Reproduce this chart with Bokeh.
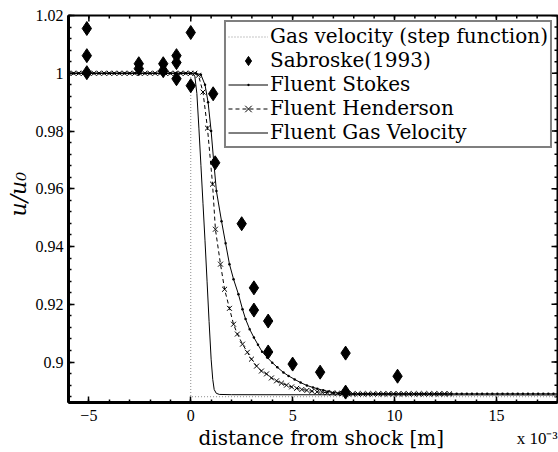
import math
from bokeh.plotting import figure
from bokeh.models import FixedTicker, Legend, LegendItem, Range1d, Title
from bokeh.embed import file_html
from bokeh.resources import INLINE

# ---- data (x in units of 1e-3 m) ----
x_step = [-6.0, 0.0, 0.0, 18.0]
u_step = [1.0, 1.0, 0.888, 0.888]

x_sab = [-5.1, -5.1, -5.1, -2.55, -2.55, -1.35, -1.35, -0.7, -0.7, -0.7, 0.0, 0.0,
         1.1, 1.2, 2.5, 2.5, 3.1, 3.1, 3.8, 3.8, 5.0, 6.35, 7.6, 7.6, 10.15]
u_sab = [1.0155, 1.0061, 1.0002, 1.0033, 1.0016, 1.0033, 1.0009, 1.0061, 1.0037, 0.9981, 1.0141, 0.9957,
         0.9929, 0.969, 0.9766, 0.9479, 0.9257, 0.918, 0.9142, 0.9035, 0.8993, 0.8965, 0.9031, 0.8896, 0.8951]

x_sto = [-6.0, -5.75, -5.5, -5.25, -5.0, -4.75, -4.5, -4.25, -4.0, -3.75, -3.5, -3.25, -3.0,
         -2.75, -2.5, -2.25, -2.0, -1.75, -1.5, -1.25, -1.0, -0.75, -0.5, -0.25, 0.0, 0.25, 0.5,
         0.7, 0.85, 1.0, 1.12, 1.26, 1.51, 1.71, 1.9, 2.1, 2.34, 2.54, 2.69, 2.89, 3.1, 3.3, 3.5,
         3.75, 4.0, 4.25, 4.55, 4.8, 5.1, 5.39, 5.7, 6.0, 6.21, 6.5, 6.75, 7.03, 7.3, 7.55, 7.8,
         8.05, 8.3, 8.55, 8.8, 9.05, 9.3, 9.55, 9.8, 10.05, 10.3, 10.55, 10.8, 11.05, 11.3, 11.55,
         11.8, 12.05, 12.3, 12.55, 12.8, 13.05, 13.3, 13.55, 13.8, 14.05, 14.3, 14.55, 14.8, 15.05,
         15.3, 15.55, 15.8, 16.05, 16.3, 16.55, 16.8, 17.05, 17.3, 17.55, 17.8, 18.05]
u_sto = [1.0, 1.0, 1.0, 1.0, 1.0, 1.0, 1.0, 1.0, 1.0, 1.0, 1.0, 1.0, 1.0,
         1.0, 1.0, 1.0, 1.0, 1.0, 1.0, 1.0, 1.0, 1.0, 1.0, 1.0, 1.0, 1.0, 0.9995,
         0.996, 0.99, 0.98, 0.97, 0.9592, 0.9488, 0.9411, 0.9339, 0.9287, 0.9235, 0.9183, 0.9149,
         0.9114, 0.9085, 0.906, 0.9036, 0.9016, 0.8998, 0.8982, 0.8964, 0.8952, 0.894, 0.8929,
         0.8919, 0.8912, 0.8908, 0.8902, 0.8898, 0.8894, 0.8892, 0.8891, 0.889,
         0.889, 0.889, 0.889, 0.889, 0.889, 0.889, 0.889, 0.889, 0.889, 0.889, 0.889, 0.889,
         0.889, 0.889, 0.889, 0.889, 0.889, 0.889, 0.889, 0.889, 0.889, 0.889, 0.889, 0.889,
         0.889, 0.889, 0.889, 0.889, 0.889, 0.889, 0.889, 0.889, 0.889, 0.889, 0.889, 0.889,
         0.889, 0.889, 0.889, 0.889, 0.889]

x_hen = [-6.0, -5.75, -5.5, -5.25, -5.0, -4.75, -4.5, -4.25, -4.0, -3.75, -3.5, -3.25, -3.0,
         -2.75, -2.5, -2.25, -2.0, -1.75, -1.5, -1.25, -1.0, -0.75, -0.5, -0.25, 0.0, 0.2,
         0.38, 0.6, 0.82, 1.07, 1.21, 1.46, 1.66, 1.9, 2.1, 2.29, 2.54, 2.78, 2.98, 3.23, 3.47,
         3.72, 3.96, 4.21, 4.45, 4.7, 4.95, 5.2, 5.45, 5.7, 5.95, 6.2, 6.45, 6.7, 6.95, 7.2,
         7.45, 7.7, 7.95, 8.2, 8.45, 8.7, 8.95, 9.2, 9.45, 9.7, 9.95, 10.2, 10.45, 10.7, 10.95,
         11.2, 11.45, 11.7, 11.95, 12.2, 12.45, 12.7]
u_hen = [1.0, 1.0, 1.0, 1.0, 1.0, 1.0, 1.0, 1.0, 1.0, 1.0, 1.0, 1.0, 1.0,
         1.0, 1.0, 1.0, 1.0, 1.0, 1.0, 1.0, 1.0, 1.0, 1.0, 1.0, 1.0, 1.0,
         0.9993, 0.9935, 0.981, 0.9616, 0.946, 0.9339, 0.9252, 0.9186, 0.9131, 0.9097, 0.9062,
         0.9034, 0.901, 0.8986, 0.8969, 0.8959, 0.8945, 0.8935, 0.8927, 0.892, 0.8914, 0.8909,
         0.8905, 0.8902, 0.8899, 0.8897, 0.8895, 0.8894, 0.8893, 0.8892, 0.8891, 0.8891, 0.889,
         0.889, 0.889, 0.889, 0.889, 0.889, 0.889, 0.889, 0.889, 0.889, 0.889, 0.889, 0.889,
         0.889, 0.889, 0.889, 0.889, 0.889, 0.889, 0.889]

x_gas = [-6.0, 0.1, 0.2, 0.3, 0.4, 0.5, 0.6, 0.7, 0.8, 0.9, 1.0, 1.08, 1.15, 1.25, 1.4, 2.0, 18.0]
u_gas = [1.0, 1.0, 0.999, 0.993, 0.981, 0.968, 0.955, 0.942, 0.928, 0.914, 0.901, 0.894,
         0.8905, 0.8892, 0.8888, 0.8887, 0.8886]

x_ticks = [-5, 0, 5, 10, 15]
x_tick_labels = ["\u22125", "0", "5", "10", "15"]
y_ticks = [0.9, 0.92, 0.94, 0.96, 0.98, 1.0, 1.02]
y_tick_labels = ["0.9", "0.92", "0.94", "0.96", "0.98", "1", "1.02"]

legend_labels = ["Gas velocity (step function)", "Sabroske(1993)", "Fluent Stokes",
                 "Fluent Henderson", "Fluent Gas Velocity"]
x_title = "distance from shock [m]"
x_exponent = "x 10\u207b\u00b3"
y_title = "u/u\u2080"

SERIF = "DejaVu Serif"
TIMES = "Liberation Serif"
X0, X1, Y0, Y1 = -6.0, 18.0, 0.886, 1.02

p = figure(width=558, height=452, x_range=Range1d(X0, X1), y_range=Range1d(Y0, Y1),
           output_backend="svg", toolbar_location=None,
           min_border_left=68, min_border_right=1, min_border_top=15, min_border_bottom=50)
p.grid.visible = False
p.outline_line_color = "black"
p.outline_line_width = 2
p.background_fill_color = "white"
p.border_fill_color = "white"

x_minor = [float(v) for v in range(-6, 19)]
y_minor = [round(0.888 + 0.004 * i, 3) for i in range(0, 34)]

def style_axis(ax, ticks, minor, labels):
    ax.ticker = FixedTicker(ticks=ticks, minor_ticks=minor)
    ax.major_tick_in = 6
    ax.major_tick_out = 0
    ax.minor_tick_in = 3
    ax.minor_tick_out = 0
    ax.major_tick_line_width = 1.5
    ax.minor_tick_line_width = 1.5
    ax.major_tick_line_color = "black"
    ax.minor_tick_line_color = "black"
    ax.major_label_overrides = {t: l for t, l in zip(ticks, labels)}
    ax.major_label_text_font = TIMES
    ax.major_label_text_font_size = "16px"
    ax.major_label_text_color = "black"
    ax.axis_line_width = 3
    ax.axis_line_color = "black"

xa = p.xaxis[0]
ya = p.yaxis[0]
style_axis(xa, x_ticks, x_minor, x_tick_labels)
style_axis(ya, y_ticks, y_minor, y_tick_labels)
xa.major_label_standoff = 7
ya.major_label_standoff = 5

# axis titles as side-panel titles (placed as in the reference)
t_main = Title(text=x_title, align="left", offset=130, standoff=0,
               text_font=SERIF, text_font_size="20px", text_font_style="normal",
               text_color="black")
p.add_layout(t_main, "below")
t_exp = Title(text=x_exponent, align="right", offset=0, standoff=-42,
              vertical_align="top",
              text_font=TIMES, text_font_size="17px", text_font_style="normal",
              text_color="black")
p.add_layout(t_exp, "below")
t_y = Title(text=y_title, align="left", offset=186, standoff=4,
            text_font=SERIF, text_font_size="22px", text_font_style="italic",
            text_color="black")
p.add_layout(t_y, "left")

# tick marks on the top and right frame edges (box on)
p.ray(x=x_ticks, y=[Y1] * len(x_ticks), length=6, length_units="screen",
      angle=-math.pi / 2, line_color="black", line_width=1.5)
p.ray(x=x_minor, y=[Y1] * len(x_minor), length=3, length_units="screen",
      angle=-math.pi / 2, line_color="black", line_width=1.5)
p.ray(x=[X1] * len(y_ticks), y=y_ticks, length=6, length_units="screen",
      angle=math.pi, line_color="black", line_width=1.5)
p.ray(x=[X1] * len(y_minor), y=y_minor, length=3, length_units="screen",
      angle=math.pi, line_color="black", line_width=1.5)

r_step = p.line(x_step, u_step, line_color="#8c8c8c", line_dash="1 2", line_width=1)
r_gas = p.line(x_gas, u_gas, line_color="black", line_width=1)
r_sto_l = p.line(x_sto, u_sto, line_color="black", line_width=1)
r_sto_m = p.scatter(x_sto, u_sto, marker="dot", size=10, line_color="black", fill_color="black")
r_hen_l = p.line(x_hen, u_hen, line_color="black", line_width=1, line_dash="4 3")
r_hen_m = p.scatter(x_hen, u_hen, marker="x", size=7, line_color="black", line_width=1)
r_sab = p.scatter(x_sab, u_sab, marker="diamond", size=14, color="black")

legend = Legend(items=[
    LegendItem(label=legend_labels[0], renderers=[r_step]),
    LegendItem(label=legend_labels[1], renderers=[r_sab]),
    LegendItem(label=legend_labels[2], renderers=[r_sto_l, r_sto_m]),
    LegendItem(label=legend_labels[3], renderers=[r_hen_l, r_hen_m]),
    LegendItem(label=legend_labels[4], renderers=[r_gas]),
], location="top_right")
legend.margin = 5
legend.padding = 2
legend.spacing = 0
legend.glyph_width = 40
legend.glyph_height = 23
legend.label_height = 23
legend.label_standoff = 2
legend.label_text_font = SERIF
legend.label_text_font_size = "20px"
legend.label_text_color = "black"
legend.border_line_color = "black"
legend.border_line_width = 2
legend.background_fill_color = "white"
legend.background_fill_alpha = 1.0
p.add_layout(legend)

open("out.html", "w").write(file_html(p, INLINE))
